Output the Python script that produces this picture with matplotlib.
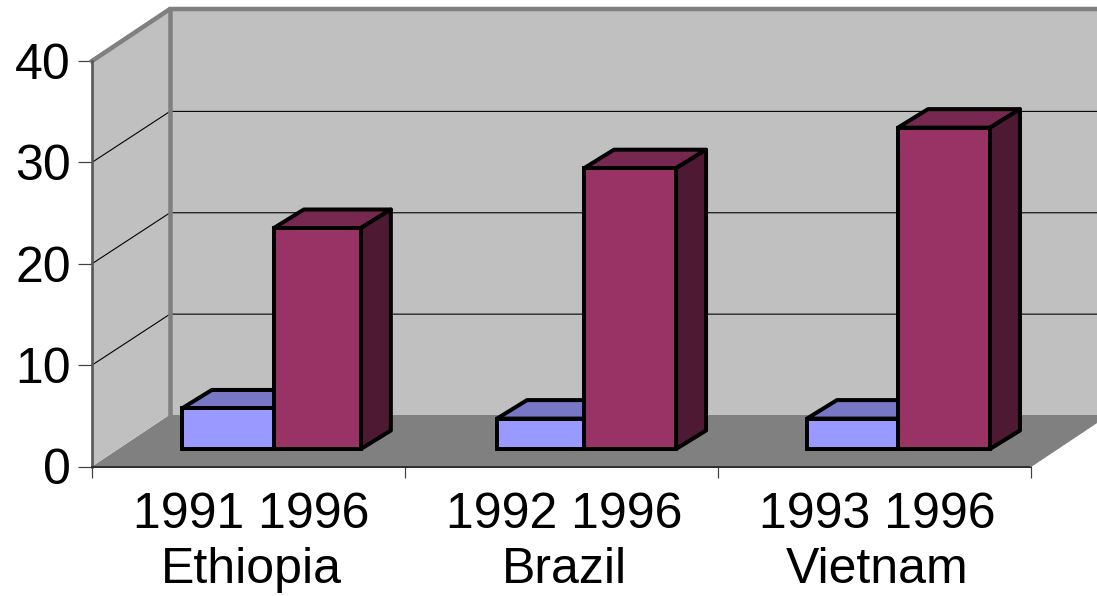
import matplotlib
matplotlib.use("Agg")
import matplotlib.pyplot as plt
from matplotlib.patches import Polygon

countries = ["Ethiopia", "Brazil", "Vietnam"]
first_years = ["1991", "1992", "1993"]
second_years = ["1996", "1996", "1996"]
first_values = [4.0, 3.0, 3.0]
second_values = [21.8, 27.7, 31.7]
y_ticks = [0, 10, 20, 30, 40]

W, H = 1097, 596
plt.rcParams["font.family"] = ["Liberation Sans", "DejaVu Sans"]
fig = plt.figure(figsize=(W / 100, H / 100), dpi=100, facecolor="white")

L, R, T, B = 92, 1031, 61, 466.5
ax = fig.add_axes([L / W, 1 - B / H, (R - L) / W, (B - T) / H])
ax.set_xlim(0, 3)
ax.set_ylim(0, 40)
ax.patch.set_visible(False)
for s in ax.spines.values():
    s.set_visible(False)

ux = 3 / (R - L)   # data units per pixel
uy = 40 / (B - T)
pt = 72 / 100      # points per pixel
DX, DY = 78 * ux, 52 * uy            # wall depth
OX, OY = 0 * ux, 17.5 * uy           # bar set-back on the floor
BDX, BDY = 30 * ux, 18.5 * uy        # bar depth
XMAX = 3 + DX


def poly(pts, fc, ec="none", lw=0, z=1):
    ax.add_patch(Polygon(pts, closed=True, facecolor=fc, edgecolor=ec,
                         linewidth=lw, zorder=z, clip_on=False, joinstyle="round"))


# walls and floor
poly([(0, 0), (DX, DY), (XMAX, DY), (3, 0)], "#808080", z=1)
poly([(0, 0), (DX, DY), (DX, 40 + DY), (0, 40)], "#C0C0C0", z=1)
poly([(DX, DY), (XMAX, DY), (XMAX, 40 + DY), (DX, 40 + DY)], "#C0C0C0", z=1)

# gridlines
for v in y_ticks[1:-1]:
    ax.plot([0, DX, XMAX], [v, v + DY - 0.1, v + DY - 0.1], color="black",
            lw=1.1 * pt, zorder=2, clip_on=False)

# wall frame
ax.plot([0, DX, XMAX], [40, 40 + DY, 40 + DY], color="#808080", lw=4.5 * pt,
        zorder=2, clip_on=False, solid_joinstyle="miter")
ax.plot([DX, DX], [DY, 40 + DY], color="#808080", lw=4.5 * pt, zorder=2, clip_on=False)
ax.plot([0, 0], [0, 40], color="#555555", lw=2.6 * pt, zorder=2, clip_on=False)
ax.plot([0, 3], [0, 0], color="#303030", lw=2 * pt, zorder=2, clip_on=False)
ax.plot([3, XMAX], [0, DY], color="#808080", lw=1 * pt, zorder=2, clip_on=False)

# bars
EDGE = 4 * pt
seams = [0.581, 1.572, 2.575]
first_w = [92 * ux, 87 * ux, 91 * ux]
second_w = [87 * ux, 92 * ux, 92 * ux]
for i, seam in enumerate(seams):
    for x0, bw, v, front, top, side, z in [
        (seam - first_w[i], first_w[i], first_values[i], "#9999FF", "#7777C6", "#4D4D80", 3),
        (seam, second_w[i], second_values[i], "#993366", "#772850", "#4D1933", 4),
    ]:
        y1 = OY + v
        ax.bar(x0, v, width=bw, bottom=OY, align="edge", color=front,
               edgecolor="black", linewidth=EDGE, zorder=z + 0.5, clip_on=False)
        poly([(x0, y1), (x0 + BDX, y1 + BDY), (x0 + bw + BDX, y1 + BDY), (x0 + bw, y1)],
             top, "black", EDGE, z)
        poly([(x0 + bw, OY), (x0 + bw + BDX, OY + BDY), (x0 + bw + BDX, y1 + BDY), (x0 + bw, y1)],
             side, "black", EDGE, z)

# axes
ax.set_yticks(y_ticks)
ax.tick_params(axis="y", length=14 * pt, width=1.2 * pt, color="#404040",
               labelsize=36, pad=7 * pt, labelcolor="black")
ax.set_xticks(range(4))
ax.set_xticklabels([])
ax.tick_params(axis="x", which="major", length=11 * pt, width=1.2 * pt, color="#404040")
ax.set_xticks([i + 0.508 for i in range(3)], minor=True)
ax.set_xticklabels([f"{a} {b}\n{c}" for a, b, c in zip(first_years, second_years, countries)],
                   minor=True, fontsize=36, linespacing=1.27)
ax.tick_params(axis="x", which="minor", length=0, pad=25 * pt)

fig.savefig("out.png", dpi=100)
